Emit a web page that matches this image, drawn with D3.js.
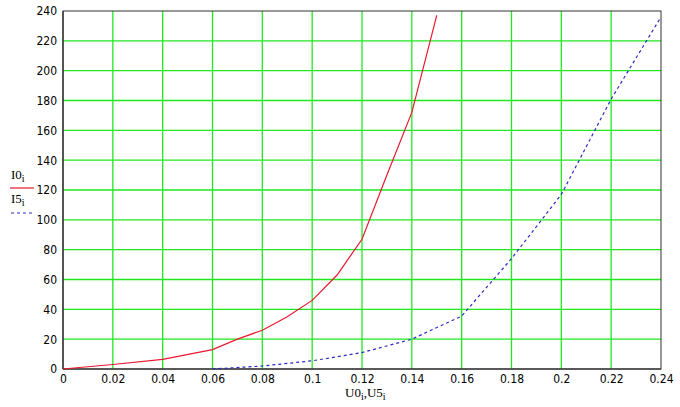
<!DOCTYPE html>
<html><head><meta charset="utf-8">
<script src="https://cdn.jsdelivr.net/npm/d3@7"></script>
<style>
html,body{margin:0;padding:0;background:#fff;}
svg{display:block;}
.tick text{font-family:"Liberation Sans Narrow","DejaVu Sans Condensed","Liberation Sans",sans-serif;font-size:12px;fill:#000;}
.lbl{font-family:"Liberation Serif","DejaVu Serif",serif;font-size:13px;fill:#000;}
</style></head>
<body>
<script>
const U0 = [0, 0.02, 0.04, 0.06, 0.07, 0.08, 0.09, 0.1, 0.11, 0.12, 0.13, 0.14, 0.15];
const I0 = [0, 3, 6.5, 13, 20, 26, 35, 46, 63, 87, 130, 172, 237];
const U5 = [0.06, 0.08, 0.1, 0.12, 0.14, 0.16, 0.18, 0.2, 0.22, 0.24];
const I5 = [0, 2, 5.5, 11, 20, 35.5, 74, 117, 181, 236];
const xTicks = [0,0.02,0.04,0.06,0.08,0.1,0.12,0.14,0.16,0.18,0.2,0.22,0.24];
const yTicks = [0,20,40,60,80,100,120,140,160,180,200,220,240];

const W=680,H=407;
const m={l:63,r:19,t:11,b:38};
const svg=d3.select("body").append("svg").attr("width",W).attr("height",H);
const x=d3.scaleLinear().domain([0,0.24]).range([m.l,W-m.r]);
const y=d3.scaleLinear().domain([0,240]).range([H-m.b,m.t]);

// grid
const g=svg.append("g");
g.selectAll("line.vx").data(xTicks.slice(1,-1)).join("line")
 .attr("x1",d=>x(d)).attr("x2",d=>x(d)).attr("y1",y(0)).attr("y2",y(240))
 .attr("stroke","#1fe81f").attr("stroke-width",1.3);
g.selectAll("line.hy").data(yTicks.slice(1,-1)).join("line")
 .attr("y1",d=>y(d)).attr("y2",d=>y(d)).attr("x1",x(0)).attr("x2",x(0.24))
 .attr("stroke","#1fe81f").attr("stroke-width",1.3);

// frame
svg.append("rect").attr("x",x(0)).attr("y",y(240)).attr("width",x(0.24)-x(0)).attr("height",y(0)-y(240))
 .attr("fill","none").attr("stroke","#333").attr("stroke-width",1);
svg.append("line").attr("x1",x(0)).attr("x2",x(0.24)).attr("y1",y(0)).attr("y2",y(0)).attr("stroke","#444").attr("stroke-width",1.6);
svg.append("line").attr("x1",x(0)).attr("x2",x(0)).attr("y1",y(0)).attr("y2",y(240)).attr("stroke","#444").attr("stroke-width",1.6);

// axes labels
const fmt=d=>d===0?"0":String(+d.toFixed(2));
const xa=svg.append("g").attr("transform",`translate(0,${y(0)})`)
 .call(d3.axisBottom(x).tickValues(xTicks).tickFormat(fmt).tickSize(0).tickPadding(5));
xa.select(".domain").remove();
const ya=svg.append("g").attr("transform",`translate(${x(0)},0)`)
 .call(d3.axisLeft(y).tickValues(yTicks).tickSize(0).tickPadding(6));
ya.select(".domain").remove();

// curves
const line=d3.line().x(d=>x(d[0])).y(d=>y(d[1]));
svg.append("path").datum(U0.map((u,i)=>[u,I0[i]])).attr("d",line)
 .attr("fill","none").attr("stroke","#e8182e").attr("stroke-width",1.2);
svg.append("path").datum(U5.map((u,i)=>[u,I5[i]])).attr("d",line)
 .attr("fill","none").attr("stroke","#2a2ac8").attr("stroke-width",1.2).attr("stroke-dasharray","3,3");

// legend
function sublabel(xp,yp,main,sub){
  const t=svg.append("text").attr("class","lbl").attr("x",xp).attr("y",yp);
  t.append("tspan").text(main);
  t.append("tspan").attr("dy",3).attr("font-size","10px").text(sub);
  return t;
}
sublabel(11,179,"I0","i");
svg.append("line").attr("x1",10).attr("x2",34).attr("y1",188).attr("y2",188).attr("stroke","#e8182e").attr("stroke-width",1.2);
sublabel(11,203,"I5","i");
svg.append("line").attr("x1",11).attr("x2",34).attr("y1",213).attr("y2",213).attr("stroke","#2a2ac8").attr("stroke-width",1.2).attr("stroke-dasharray","3,3");

// x label
const xl=svg.append("text").attr("class","lbl").attr("x",345).attr("y",397);
xl.append("tspan").text("U0");
xl.append("tspan").attr("dy",3).attr("font-size","10px").text("i");
xl.append("tspan").attr("dy",-3).text(",U5");
xl.append("tspan").attr("dy",3).attr("font-size","10px").text("i");
</script>
</body></html>
